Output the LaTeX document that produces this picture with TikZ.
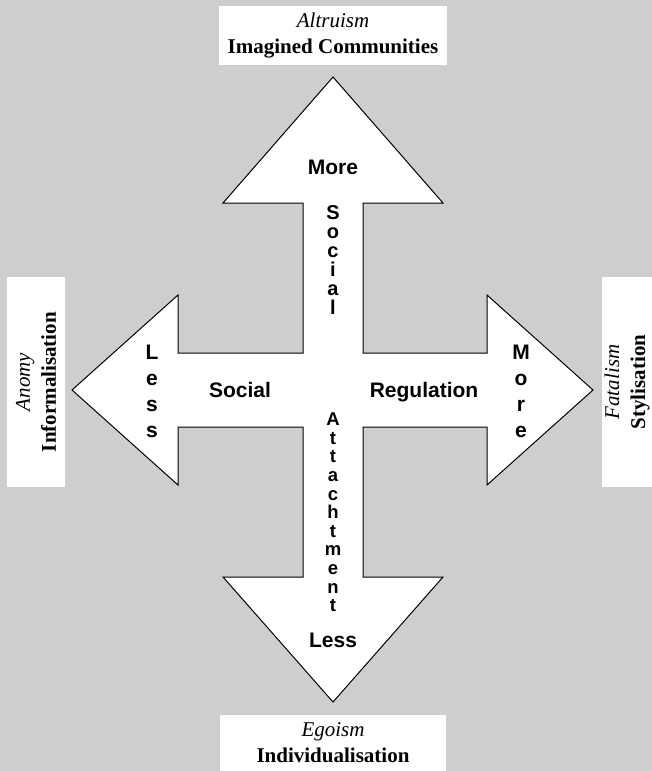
\documentclass[tikz,border=0pt]{standalone}
\usepackage{fontspec}
\setmainfont{Liberation Serif}
\setsansfont{Liberation Sans}
\usetikzlibrary{positioning,calc}
\definecolor{bgGray}{RGB}{206,206,206}
\tikzset{
    base/.style={inner sep=0pt, align=center},
    tag/.style={base, rectangle, fill=white, font=\fontsize{21}{26}\selectfont},
    word/.style={base, font=\sffamily\bfseries\fontsize{21}{25}\selectfont},
    column/.style={base, font=\sffamily\bfseries\fontsize{20}{19}\selectfont},
    armcol/.style={base, font=\sffamily\bfseries\fontsize{21}{26}\selectfont},
    cross/.style={draw=black, fill=white, line width=1pt, line join=miter}
}

\begin{document}
\begin{tikzpicture}[x=1pt, y=-1pt]
  % Background
  \fill[bgGray] (0,0) rectangle (652,771);
  \useasboundingbox (0,0) rectangle (652,771);

  % Four-way arrow
  \draw[cross] (333,77) -- (443,203) -- (363,203) -- (363,353) -- (487,353)
    -- (487,295) -- (593,390) -- (487,485) -- (487,427) -- (363,427)
    -- (363,577) -- (443,577) -- (333,702) -- (223,577) -- (303,577)
    -- (303,427) -- (178,427) -- (178,485) -- (72,390) -- (178,295)
    -- (178,353) -- (303,353) -- (303,203) -- (223,203) -- cycle;

  % End labels
  \node[tag, minimum width=228pt, minimum height=59pt] (altruism) at (333,35.5)
    {\textit{Altruism}\\\textbf{Imagined Communities}};
  \node[tag, minimum width=226pt, minimum height=56pt] (egoism) at (333,743)
    {\textit{Egoism}\\\textbf{Individualisation}};
  \node[tag, rotate=90, minimum width=210pt, minimum height=58pt] (anomy) at (36,382)
    {\textit{Anomy}\\\textbf{Informalisation}};
  \node[tag, rotate=90, minimum width=210pt, minimum height=50pt] (fatalism) at (627,382)
    {\textit{Fatalism}\\\textbf{Stylisation}};

  % Words on the arms
  \node[word, anchor=base] (moreUp) at (333,174) {More};
  \node[word, anchor=base] (lessDown) at (333,647) {Less};
  \node[word, anchor=base] (social) at (240,397) {Social};
  \node[word, anchor=base] (regulation) at (424,397) {Regulation};

  % Stacked letters
  \node[column] (socialCol) at (333,260) {S\\o\\c\\i\\a\\l};
  \node[column, font=\sffamily\bfseries\fontsize{18.5}{18.6}\selectfont] (attachCol) at (333,512.5)
    {A\\t\\t\\a\\c\\h\\t\\m\\e\\n\\t};
  \node[armcol] (lessLeft) at (152,391) {L\\e\\s\\s};
  \node[armcol] (moreRight) at (521,391) {M\\o\\r\\e};
\end{tikzpicture}
\end{document}
